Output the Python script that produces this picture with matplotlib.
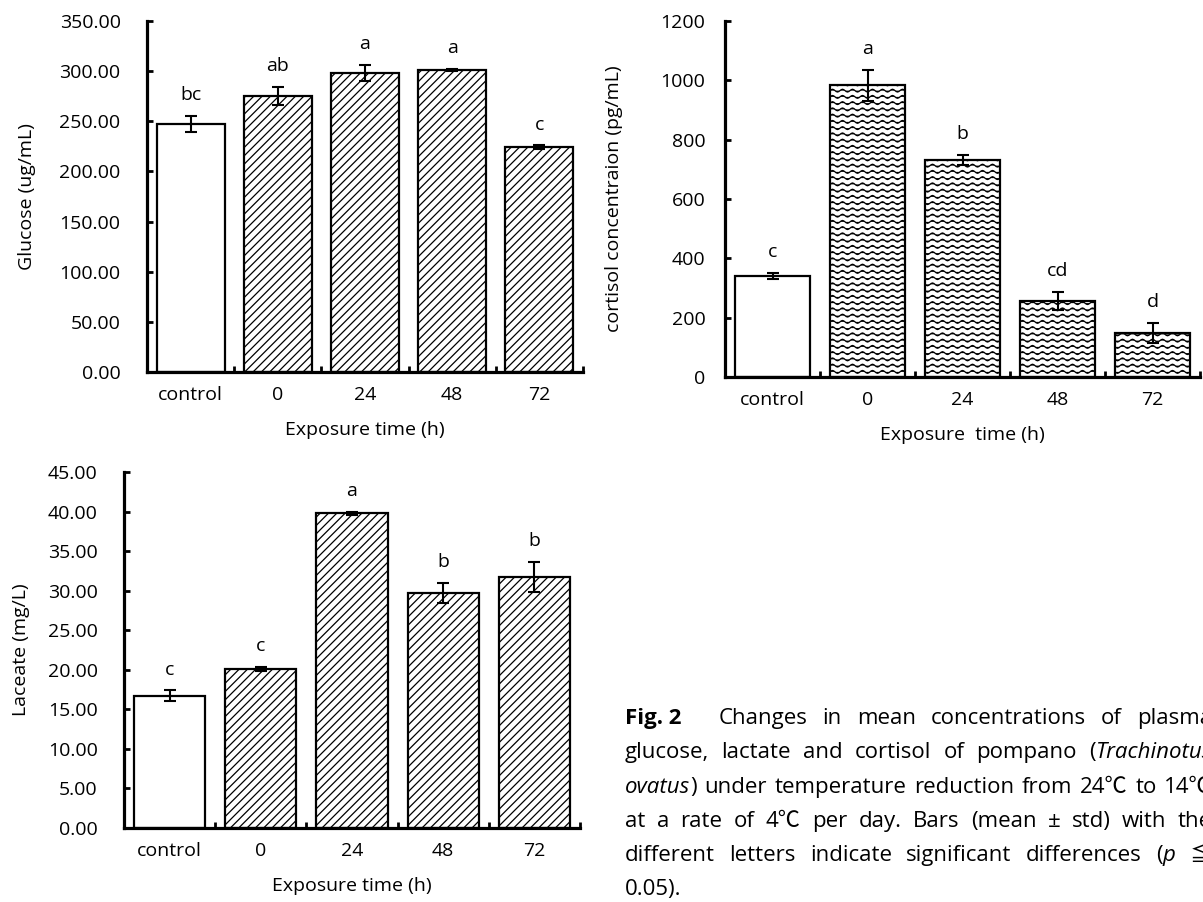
import re
import numpy as np
import matplotlib
matplotlib.use('Agg')
import matplotlib.pyplot as plt
import matplotlib.hatch as mhatch
from matplotlib.path import Path
from matplotlib.ticker import MultipleLocator, FormatStrFormatter
from matplotlib.transforms import IdentityTransform

plt.rcParams['font.family'] = ['Open Sans', 'Noto Sans CJK JP', 'DejaVu Sans']
plt.rcParams['hatch.linewidth'] = 0.9

# data
groups = ['control', '0', '24', '48', '72']

glucose = [247, 275, 298, 301, 224]
glucose_sd = [8, 9, 8, 1, 2]
glucose_sig = ['bc', 'ab', 'a', 'a', 'c']

cortisol = [340, 984, 731, 256, 148]
cortisol_sd = [10, 52, 17, 30, 34]
cortisol_sig = ['c', 'a', 'b', 'cd', 'd']

lactate = [16.7, 20.1, 39.8, 29.7, 31.7]
lactate_sd = [0.7, 0.3, 0.2, 1.3, 1.9]
lactate_sig = ['c', 'c', 'a', 'b', 'b']

caption_words = [
    ['*Fig. 2*', 'Changes', 'in', 'mean', 'concentrations', 'of', 'plasma'],
    ['glucose,', 'lactate', 'and', 'cortisol', 'of', 'pompano', '(_Trachinotus_'],
    ['_ovatus_)', 'under', 'temperature', 'reduction', 'from', '24℃', 'to', '14℃'],
    ['at', 'a', 'rate', 'of', '4℃', 'per', 'day.', 'Bars', '(mean', '±', 'std)', 'with', 'the'],
    ['different', 'letters', 'indicate', 'significant', 'differences', '(_p_', '≦'],
    ['0.05).'],
]


# wavy hatch: the '-' pattern is drawn as waves (used for the cortisol bars)
class WaveHatch(mhatch.HatchPatternBase):
    rows = 16
    periods = 10
    pts = 8

    def __init__(self, hatch, density):
        self.num_rows = self.rows if '-' in hatch else 0
        self.per_row = self.periods * self.pts + 1
        self.num_vertices = self.num_rows * self.per_row

    def set_vertices_and_codes(self, vertices, codes):
        ys, step = np.linspace(0, 1, self.num_rows, False, retstep=True)
        ys += step / 2
        xs = np.linspace(0, 1, self.per_row)
        wave = 0.014 * np.sin(2 * np.pi * self.periods * xs)
        for i, y in enumerate(ys):
            sl = slice(i * self.per_row, (i + 1) * self.per_row)
            vertices[sl, 0] = xs
            vertices[sl, 1] = y + wave
            codes[sl] = Path.LINETO
            codes[i * self.per_row] = Path.MOVETO


mhatch._hatch_types[mhatch._hatch_types.index(mhatch.HorizontalHatch)] = WaveHatch

W, H = 1203, 902
fig = plt.figure(figsize=(W / 100, H / 100), dpi=100)
FS = 14
CAP_FS = 16


def add_axes(left, right, top, bottom):
    return fig.add_axes([left / W, 1 - bottom / H, (right - left) / W, (bottom - top) / H])


def draw_panel(ax, values, sd, sig, hatch, ytop, ystep, fmt, ylabel, xlabel, ypad, ylabelpad):
    x = np.arange(len(groups))
    bars = ax.bar(x, values, width=0.78, color='white', edgecolor='black',
                  linewidth=1.6, zorder=2)
    for i, b in enumerate(bars):
        if i > 0:
            b.set_hatch(hatch)
    ax.errorbar(x, values, yerr=sd, fmt='none', ecolor='black', elinewidth=1.5,
                capsize=4.5, capthick=1.5, zorder=3)
    for xi, v, e, s in zip(x, values, sd, sig):
        ax.annotate(s, (xi, v + e), xytext=(0, 15), textcoords='offset points',
                    ha='center', va='center', fontsize=FS)

    ax.set_xlim(-0.5, len(groups) - 0.5)
    ax.set_ylim(0, ytop)
    ax.set_xticks(x, groups)
    ax.set_xticks(np.arange(-0.5, len(groups), 1), minor=True)
    ax.tick_params(axis='x', which='major', length=0, pad=10, labelsize=FS)
    ax.tick_params(axis='x', which='minor', direction='in', length=4.5, width=2)
    ax.yaxis.set_major_locator(MultipleLocator(ystep))
    ax.yaxis.set_major_formatter(FormatStrFormatter(fmt))
    ax.tick_params(axis='y', direction='in', length=4.5, width=2, pad=ypad, labelsize=FS)
    for side in ['top', 'right']:
        ax.spines[side].set_visible(False)
    for side in ['left', 'bottom']:
        ax.spines[side].set_linewidth(2.3)
    ax.set_ylabel(ylabel, fontsize=FS, labelpad=ylabelpad)
    ax.set_xlabel(xlabel, fontsize=FS, labelpad=12)


ax1 = add_axes(147, 583, 21, 372)
draw_panel(ax1, glucose, glucose_sd, glucose_sig, '////', 350, 50, '%.2f',
           'Glucose (ug/mL)', 'Exposure time (h)', 19, 17)

ax2 = add_axes(725, 1200, 21, 377)
draw_panel(ax2, cortisol, cortisol_sd, cortisol_sig, '-', 1200, 200, '%d',
           'cortisol concentraion (pg/mL)', 'Exposure  time (h)', 14, 27)

ax3 = add_axes(124, 580, 472, 828)
draw_panel(ax3, lactate, lactate_sd, lactate_sig, '////', 45, 5, '%.2f',
           'Laceate (mg/L)', 'Exposure time (h)', 19, 13)

# justified caption
fig.canvas.draw()
renderer = fig.canvas.get_renderer()
x_left, x_right = 625, 1212
for k, words in enumerate(caption_words):
    y = H - (724 + 34.3 * k)
    items = []
    for w in words:
        segs = []
        for part in re.split(r'(_[^_]+_|\*[^*]+\*)', w):
            if not part:
                continue
            style, weight = 'normal', 'normal'
            if part.startswith('_'):
                part, style = part[1:-1], 'italic'
            elif part.startswith('*'):
                part, weight = part[1:-1], 'bold'
            t = fig.text(0, y, part, transform=IdentityTransform(), fontsize=CAP_FS,
                         style=style, weight=weight, va='baseline', ha='left')
            segs.append(t)
        widths = [t.get_window_extent(renderer).width for t in segs]
        items.append((segs, widths))
    extra = 22 if k == 0 else 0
    total = sum(sum(wd) for _, wd in items)
    if len(items) > 1 and k < len(caption_words) - 1:
        gap = (x_right - x_left - total - extra) / (len(items) - 1)
    else:
        gap = 5
    cx = x_left
    for j, (segs, wd) in enumerate(items):
        for t, w in zip(segs, wd):
            t.set_x(cx)
            cx += w
        cx += gap + (extra if j == 0 else 0)

fig.savefig('out.png', dpi=100)
